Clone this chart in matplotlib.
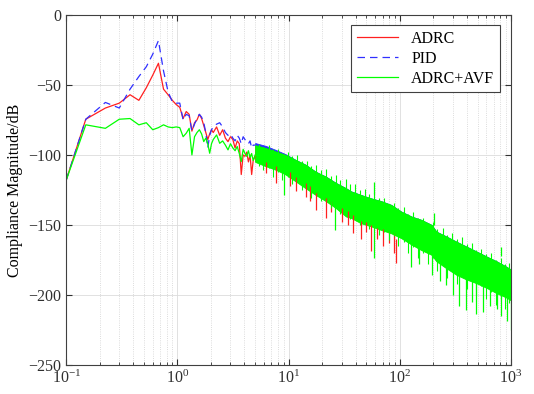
import matplotlib
matplotlib.use("Agg")
import matplotlib.pyplot as plt
import numpy as np

plt.rcParams['font.family'] = ['Liberation Serif', 'DejaVu Serif']
plt.rcParams['mathtext.fontset'] = 'stix'

# --- resolved low-frequency part (Hz, dB) ---
freq_lo = [0.1, 0.15, 0.225, 0.3, 0.375, 0.45, 0.525, 0.6, 0.675, 0.75, 0.825, 0.9,
           0.975, 1.05, 1.125, 1.2, 1.275, 1.35, 1.425, 1.5, 1.575, 1.65, 1.725, 1.8,
           1.875, 1.95, 2.025, 2.1, 2.25, 2.4, 2.55, 2.7, 2.85, 3.0, 3.15, 3.3, 3.45,
           3.6, 3.75, 3.9, 4.05, 4.2, 4.35, 4.5, 4.65, 4.8, 5.0]
adrc_lo = [-118, -74.5, -66.5, -63, -57, -61, -52, -43, -34.5, -53, -57, -61,
           -64, -66, -74, -69, -71, -83, -77, -75, -71, -74, -79, -84,
           -89, -85, -82, -84, -80, -86, -82, -88, -90.5, -87, -89, -95, -90,
           -92, -114, -100, -101, -98, -105, -100, -114, -104, -101]
pid_lo = [-118, -74.5, -62.5, -66.5, -53, -44, -37, -28, -18.3, -40, -55, -62,
          -63, -63, -75, -71, -72, -83, -78, -74, -71, -73, -77, -84,
          -95, -86, -82, -80, -78, -77, -80, -84, -86, -85, -88, -90, -86,
          -88, -92, -87, -89, -91, -92, -90, -95, -93, -93]
avf_lo = [-118, -78.5, -81, -74.5, -74, -78.5, -77, -82, -80.5, -78.5, -80, -80.5,
          -80, -80.5, -87, -84.5, -81, -100, -87, -84, -82, -85, -90.5, -88,
          -92, -98.8, -92, -89, -85.7, -91.7, -90, -93, -96.4, -92, -95, -97, -94,
          -99, -104.8, -96, -99, -101, -97, -102, -99, -104, -100]

# --- dense noisy part: envelope of the band (Hz, dB) ---
freq_hi = [5.0, 6.2, 7.7, 9.4, 11.6, 14.2, 17.5, 21.6, 26.6, 32.8, 36.3, 44.7, 55,
           67.8, 83.6, 103, 127, 156, 193, 213, 262, 323, 397, 489, 602, 741, 913, 1000]
avf_top = [-93, -95, -97.6, -100, -103.6, -107, -112, -115.5, -120, -123.8, -126, -128.6, -131,
           -133, -135.7, -140.5, -144, -146.4, -150, -154.8, -158.3, -162, -165.5, -169, -172.6, -176, -180, -182]
avf_bot = [-105, -108, -110.7, -114, -119, -123.8, -128.6, -133, -138, -144, -145, -148.8, -151,
           -153.6, -156, -159.5, -164, -168, -171.4, -176, -181, -185.7, -189, -191.7, -195, -198.8, -202, -204]
adrc_top = [-94, -97, -100, -102, -105, -109, -114, -118, -122, -126, -128, -131, -133,
            -135, -138, -142, -146, -149, -152, -157, -160, -164, -168, -171, -175, -178, -182, -184]
adrc_bot = [-104.5, -107.5, -110, -113.5, -118.5, -123, -128, -132.5, -137.5, -143.5, -144.5, -148.3, -150.5,
            -153, -155.5, -159, -163.5, -167.5, -171, -175.5, -180.5, -185, -188.5, -191, -194.5, -198, -201.5, -203.5]
pid_top = [-91.5, -93.5, -96.5, -99.5, -103.6, -107, -112, -115.5, -120, -123.8, -126, -128.6, -131,
           -133, -135.7, -140.5, -144, -146.4, -150, -154.8, -158.3, -162, -165.5, -169, -172.6, -176, -180, -182]
pid_bot = [-103, -106, -109, -112, -117, -121, -126, -131, -136, -141, -143, -147, -149,
           -152, -155, -158, -162, -166, -170, -175, -180, -184, -188, -191, -194, -198, -201, -203]

# ragged strokes through the green band (Hz, upper tip dB, lower tip dB)
tip_f = [5.4, 5.9, 6.6, 7.2, 8.1, 8.8, 9.8, 10.7, 11.9, 13.1, 14.6, 16.0, 17.8, 19.5,
         21.8, 23.9, 26.5, 29.2, 32.5, 35.6, 39.7, 43.5, 48.5, 53.2, 59.1, 65.0, 72.3,
         79.5, 88.4, 97.2, 108, 119, 132, 145, 162, 178, 198, 217, 242, 266, 296, 325,
         362, 398, 442, 486, 541, 594, 661, 726, 808, 888, 960]
tip_hi = [-92, -94, -93, -96, -96, -99, -98, -101, -100, -104, -104, -108, -107, -111,
          -110, -115, -114, -118, -117, -121, -121, -125, -124, -128, -127, -131, -131,
          -135, -134, -138, -137, -142, -141, -145, -145, -149, -148, -153, -152, -157, -156, -160,
          -159, -164, -163, -168, -167, -171, -170, -175, -174, -178, -177]
tip_lo = [-108, -111, -109, -116, -112, -118, -116, -121, -119, -125, -123, -131, -127, -133,
          -131, -138, -135, -142, -139, -146, -143, -150, -147, -153, -151, -157, -155,
          -161, -158, -165, -162, -170, -166, -174, -170, -178, -174, -183, -178, -188, -182, -192,
          -186, -196, -190, -200, -194, -203, -198, -207, -202, -210, -206]

# long spikes out of the band (Hz, from dB, to dB)
avf_spk_f = [9.0, 26, 59, 127, 150, 193, 230, 262, 300, 340, 397, 450, 489, 560, 650, 741, 820, 913, 990,
             58, 202, 812]
avf_spk_lo = [-128.6, -153.6, -173.8, -180, -178, -185.7, -190, -193, -200, -208, -210.7, -205, -214, -212, -208,
              -210, -215, -219, -225, -128, -150, -172]
avf_spk_hi = [-112, -135, -150, -160, -164, -168, -172, -176, -180, -182, -185, -188, -190, -192, -194,
              -196, -198, -200, -202, -119, -141.7, -165.5]
adrc_spk_f = [6.2, 7.7, 10.2, 11.6, 14.2, 15.5, 17.5, 21.6, 24, 30, 34, 38, 45, 50, 55, 62, 70, 80, 88, 93]
adrc_spk_lo = [-113, -120, -122, -126, -129.8, -133, -139, -145, -141, -148, -150, -156, -160, -155, -169, -160,
               -165, -163, -170, -177.4]
adrc_spk_hi = [-105, -108, -112, -116, -120, -122, -126, -130, -133, -138, -140, -143, -147, -148, -150, -152,
               -153, -154, -155, -160]

fig = plt.figure(figsize=(5.34, 3.94), dpi=100)
ax = fig.add_axes([0.124, 0.074, 0.833, 0.888])

red = '#ff2020'
blue = '#3030ff'
green = '#00ff00'

# blue / red bands under the green one
ax.fill_between(freq_hi, pid_bot, pid_top, color=blue, lw=0.6)
ax.fill_between(freq_hi, adrc_bot, adrc_top, color=red, lw=0.6)
ax.vlines(adrc_spk_f, adrc_spk_lo, adrc_spk_hi, color=red, lw=0.9)

ax.plot(freq_lo, adrc_lo, color=red, lw=0.9, label='ADRC')
ax.plot(freq_lo, pid_lo, color=blue, lw=0.9, ls=(0, (6, 4)), label='PID')
ax.plot(freq_lo, avf_lo, color=green, lw=0.9, label='ADRC+AVF')

ax.fill_between(freq_hi, avf_bot, avf_top, color=green, lw=0.6)
ax.vlines(tip_f, tip_lo, tip_hi, color=green, lw=0.8)
ax.vlines(avf_spk_f, avf_spk_lo, avf_spk_hi, color=green, lw=0.9)

ax.set_xscale('log')
ax.set_xlim(0.1, 1000)
ax.set_ylim(-250, 0)
ax.set_yticks(np.arange(-250, 1, 50))
ax.set_ylabel('Compliance Magnitude/dB', fontsize=11.5)

ax.grid(True, which='major', color='#dcdcdc', lw=0.6, ls='-')
ax.grid(True, which='minor', axis='x', color='#d0d0d0', lw=0.6, ls=':')
ax.set_axisbelow(True)
ax.tick_params(which='both', direction='in', top=True, right=True, labelsize=11.5, colors='#303030')
ax.tick_params(which='major', length=4)
ax.tick_params(which='minor', length=2)
for s in ax.spines.values():
    s.set_color('#404040')
    s.set_linewidth(0.8)

lgd = ax.legend(loc='upper right', bbox_to_anchor=(0.975, 0.971), borderaxespad=0,
                fancybox=False, framealpha=1, edgecolor='#404040', fontsize=11.5,
                handlelength=2.6, labelspacing=0.25, borderpad=0.35)
lgd.get_frame().set_linewidth(0.8)

fig.savefig('out.png', dpi=100)
